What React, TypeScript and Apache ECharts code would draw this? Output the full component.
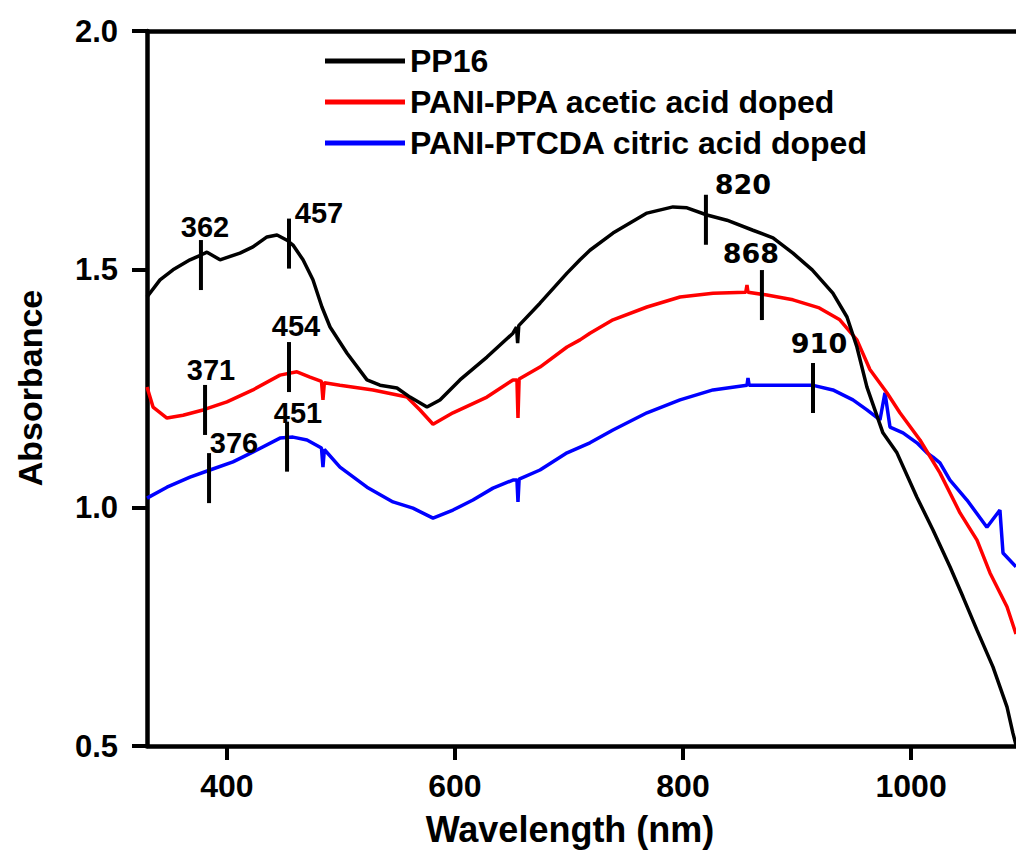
import React, { useEffect, useRef } from "react";
import * as echarts from "echarts";

// ---- Data ----
const xTickValues = [400, 600, 800, 1000];

const pp16Wl = [330.0, 341.4, 352.8, 367.7, 377.3, 382.6, 394.0, 411.5, 422.9, 435.2, 444.0, 452.8, 458.0, 466.8, 475.5, 483.4, 490.5, 505.4, 522.9, 534.3, 549.2, 560.6, 575.5, 586.9, 604.4, 628.1, 650.9, 654.0, 655.0, 656.0, 674.6, 698.3, 709.7, 718.4, 738.6, 768.4, 791.2, 803.5, 821.0, 838.5, 861.3, 878.9, 896.4, 913.3, 931.4, 943.8, 952.5, 961.3, 975.3, 987.6, 1005.1, 1019.2, 1034.1, 1045.5, 1057.8, 1071.8, 1084.1, 1089.3, 1092.0];
const pp16Abs = [1.442, 1.478, 1.499, 1.520, 1.530, 1.536, 1.520, 1.534, 1.547, 1.568, 1.572, 1.561, 1.551, 1.520, 1.478, 1.421, 1.379, 1.324, 1.268, 1.257, 1.251, 1.232, 1.211, 1.226, 1.268, 1.316, 1.366, 1.379, 1.345, 1.382, 1.429, 1.492, 1.520, 1.540, 1.576, 1.618, 1.631, 1.629, 1.614, 1.603, 1.582, 1.566, 1.534, 1.499, 1.450, 1.400, 1.337, 1.253, 1.157, 1.115, 1.022, 0.953, 0.876, 0.813, 0.743, 0.666, 0.582, 0.527, 0.502];

const ppaWl = [330.0, 335.3, 347.5, 361.6, 379.1, 400.1, 422.9, 446.6, 461.5, 472.9, 483.0, 484.3, 485.5, 499.2, 528.2, 558.0, 569.4, 580.8, 598.3, 628.1, 650.9, 654.4, 655.3, 656.3, 674.6, 698.3, 709.7, 718.4, 738.6, 768.4, 797.4, 826.3, 855.0, 856.1, 857.0, 873.6, 896.4, 919.5, 937.5, 952.5, 963.9, 978.8, 990.2, 1007.8, 1025.3, 1042.9, 1057.8, 1069.2, 1084.1, 1092.0];
const ppaAbs = [1.253, 1.211, 1.188, 1.194, 1.205, 1.222, 1.247, 1.278, 1.285, 1.274, 1.265, 1.226, 1.262, 1.257, 1.247, 1.232, 1.205, 1.175, 1.199, 1.232, 1.268, 1.268, 1.188, 1.270, 1.295, 1.337, 1.352, 1.366, 1.394, 1.421, 1.442, 1.450, 1.452, 1.467, 1.452, 1.446, 1.436, 1.419, 1.394, 1.352, 1.290, 1.241, 1.199, 1.142, 1.073, 0.989, 0.932, 0.863, 0.792, 0.735];

const ptcdaWl = [330.0, 347.5, 367.7, 385.2, 405.4, 426.4, 446.6, 458.0, 470.3, 483.0, 484.3, 485.5, 499.2, 522.9, 545.7, 563.2, 580.8, 598.3, 615.8, 633.4, 650.9, 654.4, 655.3, 656.3, 674.6, 698.3, 718.4, 738.6, 768.4, 797.4, 826.3, 856.1, 857.0, 858.0, 885.0, 913.3, 931.4, 949.0, 961.3, 972.7, 977.1, 981.5, 992.9, 1005.1, 1013.9, 1019.2, 1025.3, 1034.1, 1049.0, 1066.5, 1077.9, 1080.6, 1092.0];
const ptcdaAbs = [1.020, 1.043, 1.064, 1.079, 1.096, 1.121, 1.146, 1.148, 1.142, 1.125, 1.085, 1.122, 1.085, 1.043, 1.012, 0.999, 0.978, 0.995, 1.016, 1.041, 1.058, 1.058, 1.012, 1.060, 1.079, 1.115, 1.136, 1.163, 1.199, 1.226, 1.247, 1.257, 1.272, 1.257, 1.257, 1.257, 1.247, 1.226, 1.205, 1.184, 1.241, 1.169, 1.157, 1.136, 1.115, 1.106, 1.094, 1.058, 1.016, 0.959, 0.995, 0.905, 0.876];

const seriesNames = ["PP16", "PANI-PPA acetic acid doped", "PANI-PTCDA citric acid doped"];
const seriesColors = ["#000000", "#ff0000", "#0000ff"];

// peak annotations: label, wavelength position, absorbance at marker centre
const peakLabels = ["362", "457", "454", "371", "451", "376", "820", "868", "910"];
const peakWl = [377.3, 454.5, 454.5, 380.9, 452.8, 384.4, 820.1, 869.2, 914.0];
const peakAbs = [1.509, 1.554, 1.295, 1.205, 1.128, 1.062, 1.604, 1.446, 1.251];
// label offsets from marker centre (px)
const peakLabelDx = [4, 30, 7, 6, 11, 25, 37, -11, 6];
const peakLabelDy = [-38, -31, -41, -40, -34, -35, -35, -42, -45];

const zip = (xs: number[], ys: number[]) => xs.map((x, i) => [x, ys[i]]);

export default function App() {
  const ref = useRef<HTMLDivElement>(null);
  useEffect(() => {
    if (!ref.current) return;
    const chart = echarts.init(ref.current, undefined, { renderer: "svg" });
    const font = "Liberation Sans, Arial, sans-serif";
    const lineData = [zip(pp16Wl, pp16Abs), zip(ppaWl, ppaAbs), zip(ptcdaWl, ptcdaAbs)];
    const axisLineStyle = { color: "#000", width: 4.5 };
    chart.setOption({
      animation: false,
      backgroundColor: "#ffffff",
      grid: { left: 147, right: 0, top: 31, bottom: 106, containLabel: false },
      legend: {
        orient: "vertical",
        left: 325,
        top: 45,
        padding: 0,
        itemGap: 9,
        itemWidth: 80,
        itemHeight: 5,
        icon: "rect",
        data: seriesNames,
        textStyle: { fontFamily: font, fontWeight: "bold", fontSize: 32, color: "#000" },
      },
      xAxis: [
        {
          type: "value",
          min: 330,
          max: 1092,
          axisLine: { lineStyle: axisLineStyle },
          axisTick: { show: true, inside: false, length: 14, customValues: xTickValues, lineStyle: { color: "#000", width: 4 } },
          axisLabel: {
            customValues: xTickValues,
            margin: 24,
            color: "#000",
            fontFamily: font,
            fontWeight: "bold",
            fontSize: 32,
            formatter: (v: number) => String(v),
          },
          splitLine: { show: false },
        },
        {
          type: "value",
          position: "top",
          min: 330,
          max: 1092,
          axisLine: { show: true, lineStyle: axisLineStyle },
          axisTick: { show: false },
          axisLabel: { show: false },
          splitLine: { show: false },
        },
      ],
      yAxis: {
        type: "value",
        min: 0.5,
        max: 2.0,
        interval: 0.5,
        axisLine: { show: true, lineStyle: axisLineStyle },
        axisTick: { show: true, inside: false, length: 15, lineStyle: { color: "#000", width: 4 } },
        axisLabel: {
          margin: 29,
          color: "#000",
          fontFamily: font,
          fontWeight: "bold",
          fontSize: 31,
          formatter: (v: number) => v.toFixed(1),
        },
        splitLine: { show: false },
      },
      graphic: [
        {
          type: "text",
          x: 30,
          y: 388,
          rotation: Math.PI / 2,
          style: {
            text: "Absorbance",
            fill: "#000",
            font: `bold 34px ${font}`,
            align: "center",
            verticalAlign: "middle",
          },
        },
        {
          type: "text",
          x: 570,
          y: 829,
          style: {
            text: "Wavelength (nm)",
            fill: "#000",
            font: `bold 36px ${font}`,
            align: "center",
            verticalAlign: "middle",
          },
        },
      ],
      series: [
        ...seriesNames.map((name, i) => ({
          name,
          type: "line",
          data: lineData[i],
          showSymbol: false,
          symbol: "none",
          color: seriesColors[i],
          lineStyle: { color: seriesColors[i], width: 3.5 },
          z: 3 - i,
        })),
        {
          type: "custom",
          coordinateSystem: "cartesian2d",
          clip: false,
          z: 5,
          data: peakWl.map((w, i) => [w, peakAbs[i]]),
          renderItem: (params: any, api: any) => {
            const i = params.dataIndex;
            const p = api.coord([api.value(0), api.value(1)]);
            const right = i >= 6;
            return {
              type: "group",
              children: [
                {
                  type: "line",
                  shape: { x1: p[0], y1: p[1] - 25, x2: p[0], y2: p[1] + 25 },
                  style: { stroke: "#000", lineWidth: 4 },
                },
                {
                  type: "text",
                  x: p[0] + peakLabelDx[i],
                  y: p[1] + peakLabelDy[i],
                  style: {
                    text: peakLabels[i],
                    fill: "#000",
                    font: right ? "bold 27px DejaVu Sans, Verdana, sans-serif" : `bold 29px ${font}`,
                    align: "center",
                    verticalAlign: "middle",
                  },
                },
              ],
            };
          },
        },
      ],
    });
    return () => chart.dispose();
  }, []);
  return (
    <div
      ref={ref}
      style={{ position: "fixed", left: 0, top: 0, width: 1016, height: 852, background: "#fff" }}
    />
  );
}
